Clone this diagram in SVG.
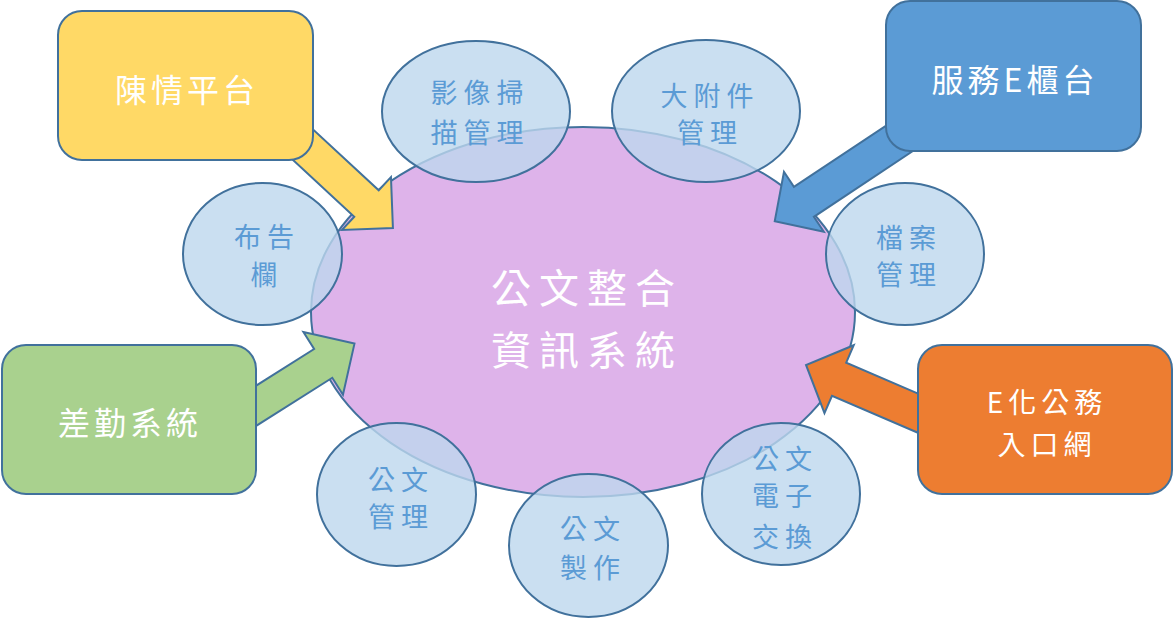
<svg xmlns="http://www.w3.org/2000/svg" width="1174" height="618" viewBox="0 0 1174 618">
<style>
.bx{stroke:#41719C;stroke-width:2}
.ar{stroke:#41719C;stroke-width:2;stroke-linejoin:miter}
.cl{fill:#BDD7EE;fill-opacity:0.8;stroke:#41719C;stroke-width:2}
.bt{font-family:"Noto Sans CJK TC","Noto Sans CJK SC",sans-serif;font-size:32px;fill:#FFFFFF;text-anchor:middle;letter-spacing:4px}
.bt2{font-family:"Noto Sans CJK TC","Noto Sans CJK SC",sans-serif;font-size:28px;fill:#FFFFFF;text-anchor:middle;letter-spacing:5px}
.ct{font-family:"Noto Sans CJK TC","Noto Sans CJK SC",sans-serif;font-size:27px;fill:#5B9BD5;text-anchor:middle;letter-spacing:6px}
.mt{font-family:"Noto Sans CJK TC","Noto Sans CJK SC",sans-serif;font-size:40px;fill:#FFFFFF;text-anchor:middle;letter-spacing:8px}
</style>
<rect width="1174" height="618" fill="#FFFFFF"/>
<g id="center">
<ellipse cx="583" cy="312" rx="272" ry="185" fill="#DEB3EA" stroke="#41719C" stroke-width="2"/>
<text class="mt" x="587" y="303">公文整合</text>
<text class="mt" x="587" y="365">資訊系統</text>
</g>
<g id="connectors">
<polygon class="ar" fill="#FFD966" transform="translate(366.5,203.5) rotate(42.8)" points="-125,-18 0,-18 0,-36 36,0 0,36 0,18 -125,18"/>
<polygon class="ar" fill="#5B9BD5" transform="translate(803.9,201.8) rotate(146.4)" points="-150,-18 0,-18 0,-36 35,0 0,36 0,18 -150,18"/>
<polygon class="ar" fill="#A9D18E" transform="translate(323.2,363.4) rotate(-32.3)" points="-110,-17 0,-17 0,-37 37,0 0,37 0,17 -110,17"/>
<polygon class="ar" fill="#ED7D31" transform="translate(839.1,379.2) rotate(-156.7)" points="-110,-18 0,-18 0,-37 36,0 0,37 0,18 -110,18"/>
</g>
<g id="box-chenqing">
<rect class="bx" x="58" y="11" width="255" height="149" rx="24" fill="#FFD966"/>
<text class="bt" x="187" y="102">陳情平台</text>
</g>
<g id="box-fuwu">
<rect class="bx" x="886" y="1" width="255" height="150" rx="24" fill="#5B9BD5"/>
<text class="bt" x="1015" y="92">服務E櫃台</text>
</g>
<g id="box-chaqin">
<rect class="bx" x="2" y="345" width="254" height="149" rx="24" fill="#A9D18E"/>
<text class="bt" x="130" y="435">差勤系統</text>
</g>
<g id="box-ehua">
<rect class="bx" x="918" y="345" width="254" height="149" rx="24" fill="#ED7D31"/>
<text class="bt2" x="1047" y="413">E化公務</text>
<text class="bt2" x="1047" y="455">入口網</text>
</g>
<g id="c-yingxiang">
<ellipse class="cl" cx="476" cy="111.5" rx="94" ry="70.5"/>
<text class="ct" x="480" y="103">影像掃</text>
<text class="ct" x="480" y="143">描管理</text>
</g>
<g id="c-dafujian">
<ellipse class="cl" cx="706" cy="111" rx="94" ry="71"/>
<text class="ct" x="710" y="106">大附件</text>
<text class="ct" x="710" y="143">管理</text>
</g>
<g id="c-dangan">
<ellipse class="cl" cx="905" cy="254" rx="79" ry="71"/>
<text class="ct" x="909" y="248">檔案</text>
<text class="ct" x="909" y="285">管理</text>
</g>
<g id="c-bugaolan">
<ellipse class="cl" cx="262.5" cy="254" rx="79.5" ry="71"/>
<text class="ct" x="267" y="247">布告</text>
<text class="ct" x="267" y="285">欄</text>
</g>
<g id="c-gongwen-guanli">
<ellipse class="cl" cx="396.5" cy="494.5" rx="79.5" ry="71.5"/>
<text class="ct" x="401" y="490">公文</text>
<text class="ct" x="401" y="527">管理</text>
</g>
<g id="c-gongwen-zhizuo">
<ellipse class="cl" cx="588.5" cy="545.5" rx="79.5" ry="71.5"/>
<text class="ct" x="593" y="539">公文</text>
<text class="ct" x="593" y="578">製作</text>
</g>
<g id="c-dianzi">
<ellipse class="cl" cx="781" cy="494" rx="79" ry="71"/>
<text class="ct" x="785" y="469">公文</text>
<text class="ct" x="785" y="506">電子</text>
<text class="ct" x="785" y="547">交換</text>
</g>
</svg>
